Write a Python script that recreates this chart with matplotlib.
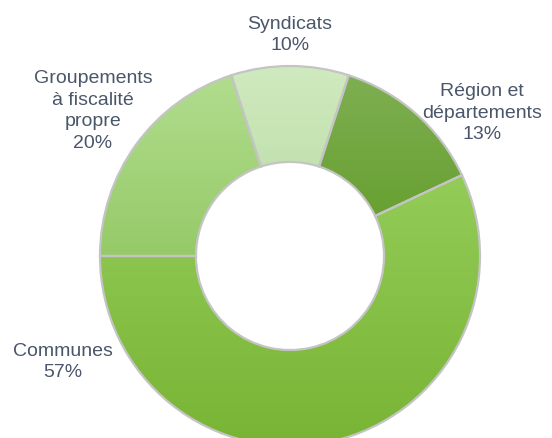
import matplotlib
matplotlib.use("Agg")
import matplotlib.pyplot as plt
import matplotlib.colors as mcolors
import numpy as np

# data (share of total, %)
labels = ["Région et\ndépartements", "Communes", "Groupements\nà fiscalité\npropre", "Syndicats"]
values = [13, 57, 20, 10]

# vertical gradient per slice (top colour, bottom colour)
grad_top = ["#7eaf52", "#93cc58", "#b1dd8e", "#d0eabf"]
grad_bot = ["#629c28", "#78b434", "#96ca68", "#b6daa2"]

# label anchor (centre) in pixel coords of the 552x439 picture, y measured from top
label_pos = [(482, 113), (63, 362), (93, 111), (290, 35)]

W, H = 552, 439
fig = plt.figure(figsize=(W / 100, H / 100), dpi=100)
ax = fig.add_axes([0, 0, 1, 1])

cx, cy, R = 290, H - 257, 190
wedges, _ = ax.pie(values, center=(cx, cy), radius=R, startangle=72,
                   counterclock=False,
                   wedgeprops=dict(width=R * 0.505, edgecolor="#c4c4c4",
                                   linewidth=1.6, facecolor="none"),
                   frame=True)
ax.set_xlim(0, W)
ax.set_ylim(0, H)
ax.set_aspect("equal")
ax.axis("off")

# fill each slice with a vertical gradient clipped to its shape
for w, c0, c1 in zip(wedges, grad_top, grad_bot):
    verts = w.get_transform().transform(w.get_path().vertices)
    verts = ax.transData.inverted().transform(verts)
    x0, x1 = verts[:, 0].min(), verts[:, 0].max()
    y0, y1 = verts[:, 1].min(), verts[:, 1].max()
    cmap = mcolors.LinearSegmentedColormap.from_list("g", [c1, c0])
    grad = np.linspace(0, 1, 256).reshape(-1, 1)
    im = ax.imshow(grad, cmap=cmap, origin="lower", aspect="auto",
                   extent=(x0, x1, y0, y1), zorder=0.5, interpolation="bilinear")
    im.set_clip_path(w)
    w.set_zorder(1)

pct = [f"{v}%" for v in values]
for lab, p, (px, py) in zip(labels, pct, label_pos):
    ax.text(px, H - py, lab + "\n" + p, ha="center", va="center",
            fontsize=14, color="#4a566a", family="Liberation Sans",
            linespacing=1.38)

fig.savefig("out.png", dpi=100)
